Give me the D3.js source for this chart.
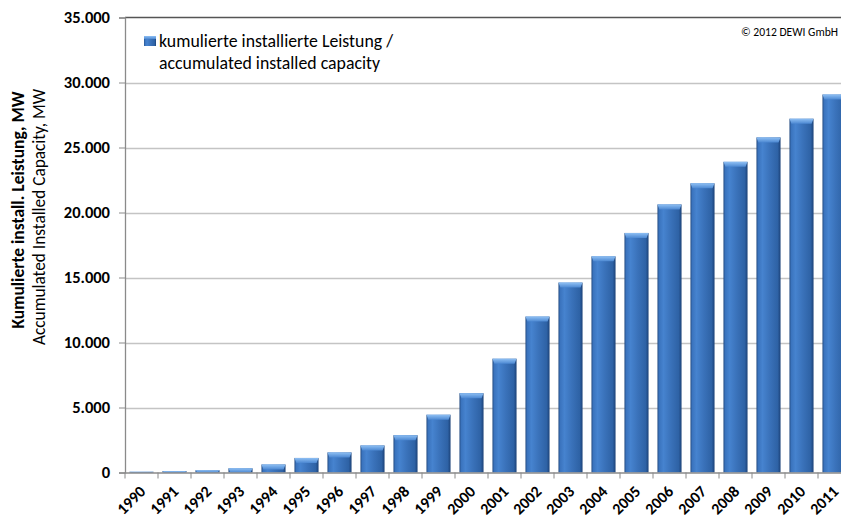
<!DOCTYPE html>
<html>
<head>
<meta charset="utf-8">
<script src="https://cdn.jsdelivr.net/npm/d3@7/dist/d3.min.js"></script>
<style>
  html, body { margin: 0; padding: 0; background: #fff; }
  svg { display: block; }
  text { font-family: Calibri, Carlito, Lato, "Open Sans", sans-serif; }
</style>
</head>
<body>
<svg id="chart" width="841" height="519"></svg>
<script>
const years = ["1990","1991","1992","1993","1994","1995","1996","1997","1998","1999","2000","2001","2002","2003","2004","2005","2006","2007","2008","2009","2010","2011"];
const capacity = [56,106,174,326,618,1121,1546,2082,2875,4444,6104,8754,11994,14609,16629,18428,20622,22247,23897,25777,27214,29075];
const yTicks = [0,5000,10000,15000,20000,25000,30000,35000];
const yTickLabels = ["0","5.000","10.000","15.000","20.000","25.000","30.000","35.000"];
const legendLines = ["kumulierte installierte Leistung /", "accumulated installed capacity"];
const yTitleDe = "Kumulierte install. Leistung, MW";
const yTitleEn = "Accumulated Installed Capacity, MW";
const copyright = "© 2012 DEWI GmbH";

(function () {
const svg = d3.select("#chart");
const pLeft = 125, pRight = 851, pTop = 17.5, pBottom = 472.5;

const x = d3.scaleBand().domain(years).range([pLeft, pRight]).paddingInner(0.27).paddingOuter(0.135);
const y = d3.scaleLinear().domain([0, 35000]).range([pBottom, pTop]);

const defs = svg.append("defs");
const g1 = defs.append("linearGradient").attr("id","barGrad").attr("x1","0").attr("x2","1").attr("y1","0").attr("y2","0");
[["0%","#22497f"],["7%","#3a73bd"],["25%","#4683cf"],["55%","#3a72ba"],["88%","#2e62a5"],["100%","#1c4278"]]
  .forEach(s => g1.append("stop").attr("offset", s[0]).attr("stop-color", s[1]));
const g2 = defs.append("linearGradient").attr("id","capGrad").attr("x1","0").attr("x2","0").attr("y1","0").attr("y2","1");
[["0%","#8fc0f4"],["100%","#4c88d2"]].forEach(s => g2.append("stop").attr("offset", s[0]).attr("stop-color", s[1]));

// gridlines
svg.append("g").selectAll("line").data(yTicks.filter(d => d > 0 && d < 35000)).join("line")
  .attr("x1", pLeft).attr("x2", 841).attr("y1", d => Math.round(y(d)) + 0.5).attr("y2", d => Math.round(y(d)) + 0.5)
  .attr("stroke", "#c4c4c4").attr("stroke-width", 1.5);
svg.append("line").attr("x1", pLeft).attr("x2", 841).attr("y1", y(35000)).attr("y2", y(35000))
  .attr("stroke", "#555").attr("stroke-width", 1.3);

// y axis
const yAxis = d3.axisLeft(y).tickValues(yTicks).tickSize(6).tickPadding(9)
  .tickFormat((d, i) => yTickLabels[i]);
const ya = svg.append("g").attr("transform", `translate(${pLeft},0)`).call(yAxis);
ya.select(".domain").attr("stroke", "#8a8a8a").attr("stroke-width", 1.3);
ya.selectAll(".tick line").attr("stroke", "#8a8a8a");
ya.selectAll(".tick text").attr("font-size", 16.5).attr("font-weight", "bold").attr("fill", "#000")
  .style("font-family", "Calibri, Carlito, Lato, sans-serif");

// bars
const bars = svg.append("g").selectAll("g").data(years).join("g");
bars.append("rect")
  .attr("x", d => x(d)).attr("width", x.bandwidth())
  .attr("y", (d, i) => y(capacity[i])).attr("height", (d, i) => pBottom - y(capacity[i]))
  .attr("fill", "url(#barGrad)");
bars.append("path")
  .attr("d", (d, i) => {
    const x0 = x(d), w = x.bandwidth(), yt = y(capacity[i]);
    const h = Math.min(5, pBottom - yt);
    return `M${x0},${yt}L${x0 + w},${yt}L${x0 + w - 2},${yt + h}L${x0 + 2},${yt + h}Z`;
  })
  .attr("fill", "url(#capGrad)");

// x axis
const xAxis = d3.axisBottom(x).tickSize(0).tickFormat(d => d);
const xa = svg.append("g").attr("transform", `translate(0,${pBottom})`).call(xAxis);
xa.select(".domain").attr("stroke", "#8a8a8a").attr("stroke-width", 1.3);
xa.selectAll(".tick text")
  .attr("font-size", 16).attr("font-weight", "bold").attr("fill", "#000")
  .attr("text-anchor", "end")
  .attr("x", 0).attr("y", 0).attr("dy", "0.35em")
  .attr("transform", "translate(1,16) rotate(-45)");
// boundary ticks
svg.append("g").selectAll("line").data(d3.range(years.length + 1)).join("line")
  .attr("x1", i => pLeft + i * x.step()).attr("x2", i => pLeft + i * x.step())
  .attr("y1", pBottom).attr("y2", pBottom + 6).attr("stroke", "#8a8a8a");

// axis titles
svg.append("text").attr("transform", "translate(24,210) rotate(-90)").attr("text-anchor", "middle")
  .attr("font-size", 17.5).attr("font-weight", "bold").text(yTitleDe);
svg.append("text").attr("transform", "translate(45,217) rotate(-90)").attr("text-anchor", "middle")
  .attr("font-size", 17.3).text(yTitleEn);

// legend
svg.append("rect").attr("x", 144).attr("y", 36).attr("width", 12).attr("height", 10).attr("fill", "url(#barGrad)");
svg.append("rect").attr("x", 144).attr("y", 36).attr("width", 12).attr("height", 3).attr("fill", "url(#capGrad)");
svg.selectAll(".leg").data(legendLines).join("text").attr("class", "leg")
  .attr("x", 159).attr("y", (d, i) => 47 + i * 22).attr("font-size", 17.8).text(d => d);

// copyright
svg.append("text").attr("x", 838).attr("y", 36).attr("text-anchor", "end").attr("font-size", 11.6).text(copyright);
})();
</script>
</body>
</html>
